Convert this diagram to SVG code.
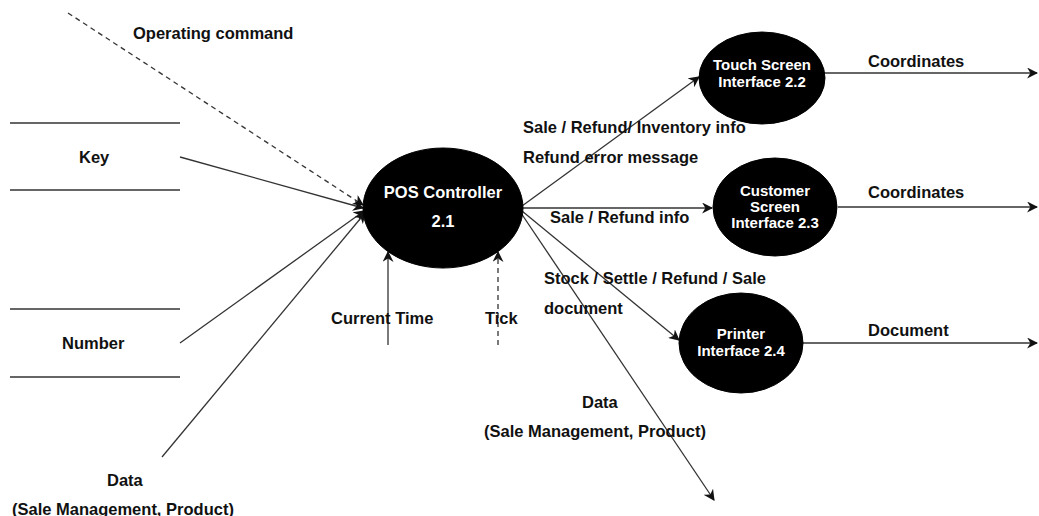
<svg xmlns="http://www.w3.org/2000/svg" width="1039" height="516" viewBox="0 0 1039 516">
<style>
text{font-family:"Liberation Sans",Arial,sans-serif;font-weight:bold;font-size:16.5px;fill:#111}
.w{fill:#fff;text-anchor:middle}
.s{font-size:15px}
.ln{stroke:#333;stroke-width:1.3;fill:none}
.f{stroke:#333;stroke-width:1.3;fill:none;marker-end:url(#ah)}
.d{stroke-dasharray:5,4}
.nd{fill:#000;stroke:#000}
</style>
<defs>
<marker id="ah" viewBox="0 0 10 10" refX="9" refY="5" markerWidth="11" markerHeight="11" markerUnits="userSpaceOnUse" orient="auto">
<path d="M0,0 L10,5 L0,10 L3,5 z" fill="#111"/>
</marker>
</defs>
<g id="stores">
<line class="ln" x1="10" y1="123" x2="180" y2="123"/>
<line class="ln" x1="10" y1="190" x2="180" y2="190"/>
<text x="79" y="163">Key</text>
<line class="ln" x1="10" y1="309" x2="180" y2="309"/>
<line class="ln" x1="10" y1="377" x2="180" y2="377"/>
<text x="62" y="349">Number</text>
</g>
<g id="connectors">
<line class="f d" x1="68" y1="13" x2="363" y2="205"/>
<line class="f" x1="180" y1="157" x2="363" y2="208"/>
<line class="f" x1="180" y1="343" x2="364" y2="211"/>
<line class="f" x1="162" y1="457" x2="365" y2="213"/>
<line class="f" x1="388" y1="345" x2="388" y2="252"/>
<line class="f d" x1="498" y1="345" x2="498" y2="252"/>
<line class="f" x1="522" y1="206" x2="699" y2="77"/>
<line class="f" x1="523" y1="208" x2="712" y2="208"/>
<line class="f" x1="522" y1="211" x2="679" y2="340"/>
<line class="f" x1="521" y1="213" x2="714" y2="500"/>
<line class="f" x1="824" y1="73" x2="1037" y2="73"/>
<line class="f" x1="838" y1="207" x2="1037" y2="207"/>
<line class="f" x1="803" y1="343" x2="1037" y2="343"/>
</g>
<g id="labels">
<text x="133" y="39">Operating command</text>
<text x="107" y="486">Data</text>
<text x="12" y="515">(Sale Management, Product)</text>
<text x="331" y="324">Current Time</text>
<text x="485" y="324">Tick</text>
<text x="523" y="133">Sale / Refund/ Inventory info</text>
<text x="523" y="163">Refund error message</text>
<text x="550" y="223">Sale / Refund info</text>
<text x="544" y="284">Stock / Settle / Refund / Sale</text>
<text x="544" y="314">document</text>
<text x="582" y="408">Data</text>
<text x="484" y="437">(Sale Management, Product)</text>
<text x="868" y="67">Coordinates</text>
<text x="868" y="198">Coordinates</text>
<text x="868" y="336">Document</text>
</g>
<g id="pos-controller">
<ellipse class="nd" cx="443" cy="208" rx="80" ry="60"/>
<text class="w" x="443" y="198">POS Controller</text>
<text class="w" x="443" y="227">2.1</text>
</g>
<g id="touch-screen">
<ellipse class="nd" cx="762" cy="78" rx="63" ry="46"/>
<text class="w s" x="762" y="70">Touch Screen</text>
<text class="w s" x="762" y="87">Interface 2.2</text>
</g>
<g id="customer-screen">
<ellipse class="nd" cx="775" cy="207" rx="62" ry="49"/>
<text class="w s" x="775" y="196">Customer</text>
<text class="w s" x="775" y="212">Screen</text>
<text class="w s" x="775" y="228">Interface 2.3</text>
</g>
<g id="printer">
<ellipse class="nd" cx="741" cy="343" rx="62" ry="50"/>
<text class="w s" x="741" y="339">Printer</text>
<text class="w s" x="741" y="356">Interface 2.4</text>
</g>
</svg>
